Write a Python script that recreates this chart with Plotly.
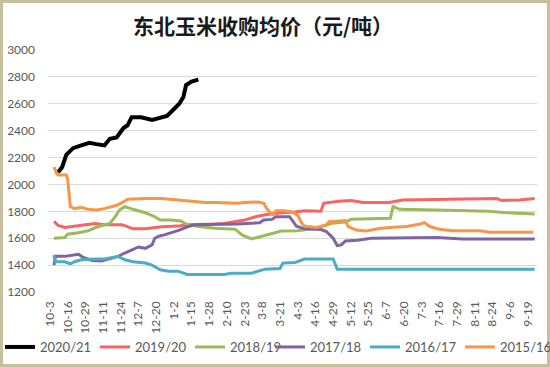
import plotly.graph_objects as go
import pandas as pd

TITLE = "东北玉米收购均价（元/吨）"

TICK_LABELS = ["10-3", "10-16", "10-29", "11-11", "11-24", "12-7", "12-20", "1-2", "1-15",
               "1-28", "2-10", "2-23", "3-8", "3-21", "4-3", "4-16", "4-29", "5-12", "5-25",
               "6-7", "6-20", "7-3", "7-16", "7-29", "8-11", "8-24", "9-6", "9-19"]

SERIES_NAMES = ["2020/21", "2019/20", "2018/19", "2017/18", "2016/17", "2015/16"]
SERIES_COLORS = ["#000000", "#F96363", "#9BBB59", "#8064A2", "#4BACC6", "#F79646"]

S2020_X = ["10-9", "10-12", "10-15", "10-20", "10-26", "11-1", "11-6", "11-12", "11-16", "11-21",
           "11-26", "11-29", "12-2", "12-9", "12-17", "12-23", "12-28", "1-1", "1-6", "1-9",
           "1-11", "1-15", "1-20"]
S2020_Y = [2090, 2130, 2220, 2270, 2290, 2310, 2300, 2290, 2340, 2350,
           2420, 2440, 2500, 2500, 2480, 2500, 2510, 2550, 2600, 2650,
           2740, 2765, 2780]

S2019_X = ["10-6", "10-9", "10-14", "10-21", "10-31", "11-5", "11-12", "11-25", "11-28", "12-3",
           "12-12", "12-24", "1-5", "1-12", "2-1", "2-8", "2-23", "3-3", "3-10", "3-22",
           "4-1", "4-8", "4-20", "4-22", "5-3", "5-12", "5-21", "6-9", "6-19", "7-21",
           "8-5", "8-27", "8-31", "9-13", "9-24"]
S2019_Y = [1725, 1695, 1680, 1690, 1700, 1710, 1700, 1700, 1690, 1670,
           1670, 1685, 1690, 1700, 1705, 1710, 1735, 1760, 1775, 1790,
           1795, 1805, 1800, 1860, 1875, 1880, 1865, 1865, 1885, 1890,
           1895, 1895, 1880, 1885, 1895]

S2018_X = ["10-6", "10-14", "10-16", "10-24", "10-31", "11-7", "11-16", "11-20", "11-23", "11-27",
           "12-3", "12-12", "12-18", "12-23", "12-31", "1-7", "1-12", "1-20", "2-1", "2-16",
           "2-21", "2-28", "3-5", "3-15", "3-22", "4-3", "4-16", "4-28", "5-9", "5-12",
           "5-30", "6-10", "6-12", "6-17", "7-14", "8-21", "9-1", "9-24"]
S2018_Y = [1600, 1605, 1630, 1640, 1655, 1685, 1710, 1760, 1810, 1835,
           1815, 1790, 1765, 1735, 1735, 1728, 1700, 1687, 1675, 1667,
           1624, 1595, 1607, 1632, 1654, 1656, 1674, 1711, 1723, 1741,
           1748, 1748, 1835, 1815, 1810, 1800, 1791, 1780]

S2017_X = ["10-6", "10-7", "10-14", "10-21", "10-24", "10-27", "11-3", "11-10", "11-16", "11-22",
           "11-27", "12-2", "12-7", "12-12", "12-17", "12-19", "12-22", "12-26", "12-31", "1-6",
           "1-12", "1-17", "2-18", "3-3", "3-6", "3-9", "3-15", "3-18", "3-28", "4-2",
           "4-8", "4-20", "4-24", "4-29", "5-2", "5-5", "5-8", "5-17", "5-27", "7-14",
           "8-2", "9-24"]
S2017_Y = [1400, 1465, 1465, 1475, 1480, 1460, 1435, 1430, 1445, 1465,
           1490, 1515, 1535, 1525, 1550, 1600, 1615, 1625, 1640, 1660,
           1685, 1700, 1705, 1710, 1715, 1735, 1740, 1760, 1760, 1690,
           1670, 1665, 1650, 1600, 1545, 1550, 1580, 1585, 1600, 1605,
           1595, 1595]

S2016_X = ["10-6", "10-7", "10-14", "10-18", "10-21", "10-26", "11-5", "11-12", "11-20", "11-22",
           "11-27", "12-3", "12-12", "12-17", "12-23", "12-29", "1-5", "1-12", "2-8", "2-13",
           "2-28", "3-5", "3-10", "3-21", "3-23", "4-1", "4-8", "4-29", "5-2", "9-24"]
S2016_Y = [1475, 1425, 1425, 1410, 1425, 1440, 1445, 1445, 1460, 1465,
           1440, 1425, 1415, 1400, 1365, 1355, 1355, 1330, 1330, 1340,
           1340, 1355, 1370, 1375, 1415, 1420, 1445, 1445, 1370, 1370]

S2015_X = ["10-6", "10-8", "10-9", "10-15", "10-16", "10-18", "10-21", "10-26", "10-31", "11-6",
           "11-12", "11-21", "11-26", "11-29", "12-12", "12-24", "1-5", "1-15", "1-25", "2-1",
           "2-18", "2-23", "3-5", "3-9", "3-11", "3-14", "3-16", "3-18", "3-24", "3-30",
           "4-3", "4-6", "4-8", "4-17", "4-24", "4-26", "5-8", "5-10", "5-16", "5-23",
           "6-2", "6-12", "6-22", "7-2", "7-5", "7-9", "7-16", "7-26", "8-15", "8-22",
           "9-23"]
S2015_Y = [2130, 2080, 2070, 2070, 2040, 1835, 1820, 1830, 1815, 1810,
           1820, 1845, 1870, 1890, 1895, 1895, 1885, 1875, 1865, 1865,
           1860, 1865, 1870, 1860, 1823, 1786, 1775, 1805, 1805, 1795,
           1770, 1711, 1690, 1680, 1698, 1723, 1731, 1687, 1661, 1654,
           1672, 1681, 1687, 1706, 1716, 1687, 1667, 1656, 1656, 1645,
           1645]

SERIES_X = [S2020_X, S2019_X, S2018_X, S2017_X, S2016_X, S2015_X]
SERIES_Y = [S2020_Y, S2019_Y, S2018_Y, S2017_Y, S2016_Y, S2015_Y]
LINE_WIDTHS = [4, 3, 3, 3, 3, 3]
LEGEND_GROUP = ["legend", "legend", "legend", "legend2", "legend2", "legend2"]


def to_date(md):
    m, d = (int(v) for v in md.split("-"))
    year = 2020 if m >= 10 else 2021
    return f"{year}-{m:02d}-{d:02d}"


fig = go.Figure()
for name, color, xs, ys, lw, lg in zip(SERIES_NAMES, SERIES_COLORS, SERIES_X, SERIES_Y,
                                       LINE_WIDTHS, LEGEND_GROUP):
    fig.add_trace(go.Scatter(
        x=[to_date(v) for v in xs], y=ys, name=name, mode="lines", legend=lg,
        line=dict(color=color, width=lw), hoverinfo="skip"))

start = pd.Timestamp(to_date(TICK_LABELS[0]))
x_range = [(start - pd.Timedelta(hours=34)).isoformat(), (start + pd.Timedelta(hours=24 * 357.7)).isoformat()]

W, H = 550, 367
ML, MR, MT, MB = 48, 13, 50, 75
PW, PH = W - ML - MR, H - MT - MB
BORDER = "#C8C09C"
inset = 1.5

legend_common = dict(orientation="h", xanchor="left", yanchor="top",
                     y=(PH - (332 - MT)) / PH,
                     font=dict(size=13, color="#595959"),
                     entrywidth=50, entrywidthmode="pixels",
                     itemwidth=30, bgcolor="rgba(0,0,0,0)")

fig.update_layout(
    width=W, height=H,
    margin=dict(l=ML, r=MR, t=MT, b=MB, autoexpand=False),
    paper_bgcolor="white", plot_bgcolor="white",
    title=dict(text=TITLE, x=263 / W, xref="container", xanchor="center",
               y=1 - 27 / H, yref="container", yanchor="middle",
               font=dict(family="Noto Sans CJK SC", size=21, color="#1a1a1a", weight="bold")),
    font=dict(family="Lato, Open Sans, sans-serif", color="#595959"),
    showlegend=True,
    legend=dict(x=(0 - ML) / PW, **legend_common),
    legend2=dict(x=(270 - ML) / PW, **legend_common),
    xaxis=dict(type="date", range=x_range, tickvals=[to_date(t) for t in TICK_LABELS],
               ticktext=TICK_LABELS, tickangle=-90, showgrid=False, showline=False,
               zeroline=False, ticks="", ticklabelstandoff=6, automargin=False,
               tickfont=dict(size=12, color="#595959")),
    yaxis=dict(range=[1200, 3000], dtick=200, tick0=1200, showgrid=True, gridcolor="#D9D9D9",
               gridwidth=1, showline=False, zeroline=False, ticks="", ticklabelstandoff=12,
               automargin=False, tickfont=dict(size=12, color="#595959")),
    shapes=[dict(type="rect", xref="paper", yref="paper",
                 x0=(-ML + inset) / PW, x1=1 + (MR - inset) / PW,
                 y0=(-MB + inset) / PH, y1=1 + (MT - inset) / PH,
                 line=dict(color=BORDER, width=3), fillcolor="rgba(0,0,0,0)", layer="above")],
)

fig.write_html("out.html", config={"displayModeBar": False},
               post_script="document.body.style.margin='0';")
